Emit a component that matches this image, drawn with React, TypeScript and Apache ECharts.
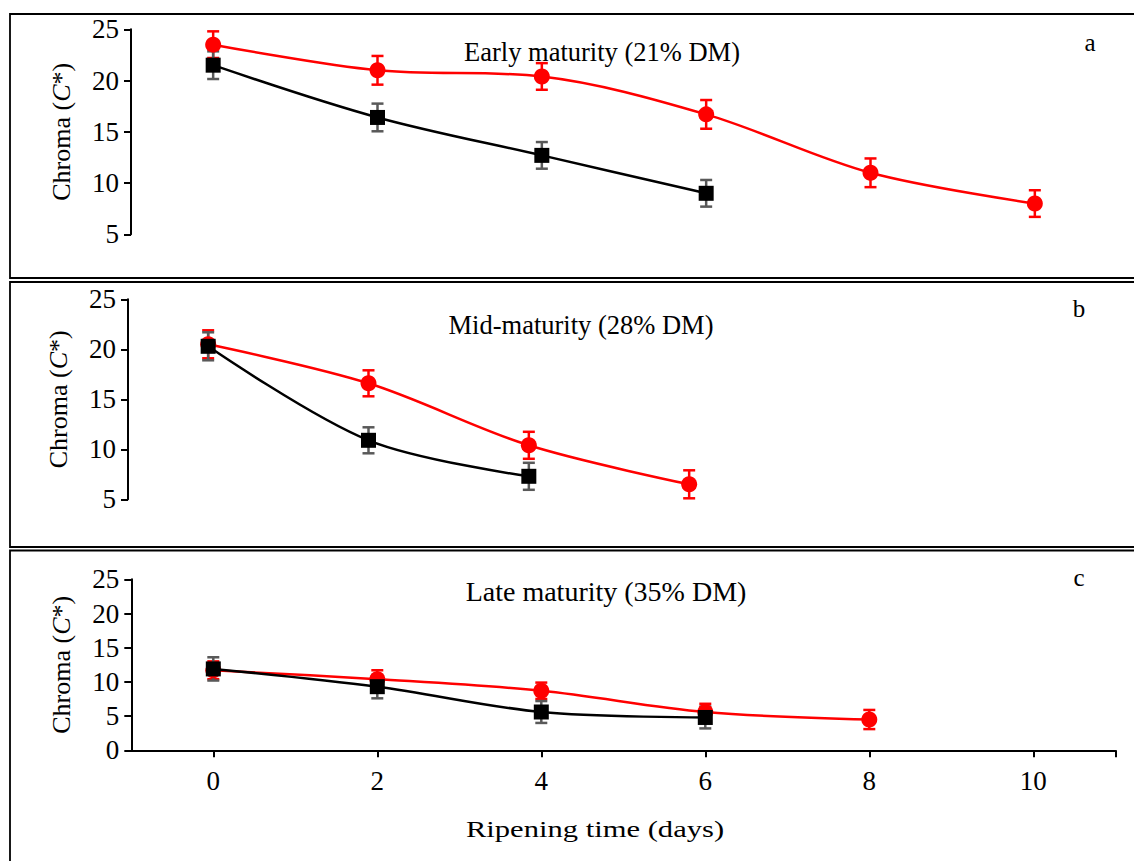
import React, { useEffect, useRef } from "react";
import * as echarts from "echarts";

const FONT = "Liberation Serif";

// Ripening time (days)
const days = [0, 2, 4, 6, 8, 10];
const xTickValues = [0, 2, 4, 6, 8, 10, 11];
const xLabelValues = [0, 2, 4, 6, 8, 10];

// Panel a: Early maturity (21% DM)
const earlyRed = [23.5, 21.0, 20.4, 16.7, 11.0, 8.0];
const earlyRedErr = [1.3, 1.4, 1.3, 1.4, 1.4, 1.3];
const earlyBlack = [21.5, 16.4, 12.7, 9.0];
const earlyBlackErr = [1.35, 1.35, 1.3, 1.3];

// Panel b: Mid-maturity (28% DM)
const midRed = [20.5, 16.6, 10.4, 6.5];
const midRedErr = [1.4, 1.3, 1.35, 1.4];
const midBlack = [20.3, 10.9, 7.3];
const midBlackErr = [1.4, 1.3, 1.35];

// Panel c: Late maturity (35% DM)
const lateRed = [11.7, 10.4, 8.7, 5.6, 4.5];
const lateRedErr = [1.3, 1.3, 1.2, 1.2, 1.4];
const lateBlack = [11.9, 9.3, 5.6, 4.8];
const lateBlackErr = [1.7, 1.7, 1.6, 1.6];

const panelTitles = ["Early maturity (21% DM)", "Mid-maturity (28% DM)", "Late maturity (35% DM)"];
const panelLetters = ["a", "b", "c"];

const RED = "#ff0000";
const BLACK = "#000000";
const GREY = "#595959";

function errSeries(idx: number, ys: number[], es: number[], color: string, z: number) {
  return {
    type: "custom",
    xAxisIndex: idx,
    yAxisIndex: idx,
    z,
    silent: true,
    encode: { x: 0, y: 1 },
    data: ys.map((y, i) => [days[i], y, es[i]]),
    renderItem: (_params: any, api: any) => {
      const x = api.value(0);
      const y = api.value(1);
      const e = api.value(2);
      const top = api.coord([x, y + e]);
      const bot = api.coord([x, y - e]);
      const w = 6;
      const style = { stroke: color, lineWidth: 2.5 };
      return {
        type: "group",
        children: [
          { type: "line", shape: { x1: top[0], y1: top[1], x2: bot[0], y2: bot[1] }, style },
          { type: "line", shape: { x1: top[0] - w, y1: top[1], x2: top[0] + w, y2: top[1] }, style },
          { type: "line", shape: { x1: bot[0] - w, y1: bot[1], x2: bot[0] + w, y2: bot[1] }, style },
        ],
      };
    },
  };
}

function lineSeries(idx: number, name: string, ys: number[], color: string, symbol: string, size: number, z: number) {
  return {
    type: "line",
    name,
    xAxisIndex: idx,
    yAxisIndex: idx,
    z,
    data: ys.map((y, i) => [days[i], y]),
    smooth: 0.33,
    symbol,
    symbolSize: size,
    showSymbol: true,
    lineStyle: { color, width: 2.5 },
    itemStyle: { color, opacity: 1 },
  };
}

function yAxis(idx: number, min: number) {
  return {
    type: "value",
    gridIndex: idx,
    min,
    max: 25,
    interval: 5,
    axisLine: { show: true, onZero: false, lineStyle: { color: "#000", width: 2 } },
    axisTick: { show: true, length: 7, lineStyle: { color: "#000", width: 2 } },
    axisLabel: { color: "#000", fontSize: 27, fontFamily: FONT, margin: 12 },
    splitLine: { show: false },
    name: "Chroma ({i|C}*)",
    nameLocation: "middle",
    nameRotate: 90,
    nameGap: 57,
    nameTextStyle: {
      color: "#000",
      fontSize: 26,
      fontFamily: FONT,
      rich: { i: { fontStyle: "italic", fontSize: 26, fontFamily: FONT, color: "#000" } },
    },
  };
}

function hiddenX(idx: number) {
  return { type: "value", gridIndex: idx, min: -1, max: 11, show: false, splitLine: { show: false } };
}

export default function App() {
  const ref = useRef<HTMLDivElement>(null);
  useEffect(() => {
    if (!ref.current) return;
    const chart = echarts.init(ref.current, null, { renderer: "svg" });
    const option: any = {
      animation: false,
      backgroundColor: "#ffffff",
      textStyle: { fontFamily: FONT },
      grid: [
        { left: 131, top: 29.3, width: 986, height: 205 },
        { left: 128, top: 299.3, width: 962, height: 200 },
        { left: 131.3, top: 579.3, width: 984, height: 171 },
      ],
      xAxis: [
        hiddenX(0),
        hiddenX(1),
        {
          type: "value",
          gridIndex: 2,
          min: -1,
          max: 11,
          axisLine: { show: true, onZero: false, lineStyle: { color: "#000", width: 2 } },
          axisTick: { show: true, length: 7, customValues: xTickValues, lineStyle: { color: "#000", width: 2 } },
          axisLabel: { customValues: xLabelValues, color: "#000", fontSize: 27, fontFamily: FONT, margin: 17 },
          splitLine: { show: false },
        },
      ],
      yAxis: [yAxis(0, 5), yAxis(1, 5), yAxis(2, 0)],
      series: [
        errSeries(0, earlyRed, earlyRedErr, RED, 2),
        errSeries(0, earlyBlack, earlyBlackErr, GREY, 3),
        lineSeries(0, "Early red", earlyRed, RED, "circle", 16, 4),
        lineSeries(0, "Early black", earlyBlack, BLACK, "rect", 15, 5),
        errSeries(1, midRed, midRedErr, RED, 2),
        errSeries(1, midBlack, midBlackErr, GREY, 3),
        lineSeries(1, "Mid red", midRed, RED, "circle", 16, 4),
        lineSeries(1, "Mid black", midBlack, BLACK, "rect", 15, 5),
        errSeries(2, lateRed, lateRedErr, RED, 2),
        errSeries(2, lateBlack, lateBlackErr, GREY, 3),
        lineSeries(2, "Late red", lateRed, RED, "circle", 16, 4),
        lineSeries(2, "Late black", lateBlack, BLACK, "rect", 15, 5),
      ],
      graphic: [
        { type: "rect", shape: { x: 10, y: 14, width: 1140, height: 264 }, style: { fill: "none", stroke: "#000", lineWidth: 1.8 }, z: 0 },
        { type: "rect", shape: { x: 10, y: 282, width: 1140, height: 265 }, style: { fill: "none", stroke: "#000", lineWidth: 1.8 }, z: 0 },
        { type: "rect", shape: { x: 10, y: 550.5, width: 1140, height: 330 }, style: { fill: "none", stroke: "#000", lineWidth: 1.8 }, z: 0 },
        { type: "text", x: 602, y: 52, style: { text: panelTitles[0], font: `26.5px ${FONT}`, fill: "#000", textAlign: "center", textVerticalAlign: "middle" } },
        { type: "text", x: 581, y: 325, style: { text: panelTitles[1], font: `26.5px ${FONT}`, fill: "#000", textAlign: "center", textVerticalAlign: "middle" } },
        { type: "text", x: 606, y: 591, style: { text: panelTitles[2], font: `28px ${FONT}`, fill: "#000", textAlign: "center", textVerticalAlign: "middle" } },
        { type: "text", x: 1090, y: 42, style: { text: panelLetters[0], font: `25px ${FONT}`, fill: "#000", textAlign: "center", textVerticalAlign: "middle" } },
        { type: "text", x: 1079, y: 308, style: { text: panelLetters[1], font: `25px ${FONT}`, fill: "#000", textAlign: "center", textVerticalAlign: "middle" } },
        { type: "text", x: 1079, y: 577, style: { text: panelLetters[2], font: `25px ${FONT}`, fill: "#000", textAlign: "center", textVerticalAlign: "middle" } },
        { type: "text", x: 595, y: 829, scaleX: 1.33, originX: 0, style: { text: "Ripening time (days)", font: `23px ${FONT}`, fill: "#000", textAlign: "center", textVerticalAlign: "middle" } },
      ],
    };
    chart.setOption(option);
    return () => chart.dispose();
  }, []);
  return (
    <div
      ref={ref}
      style={{ position: "absolute", left: 0, top: 0, width: 1134, height: 861, background: "#fff" }}
    />
  );
}
